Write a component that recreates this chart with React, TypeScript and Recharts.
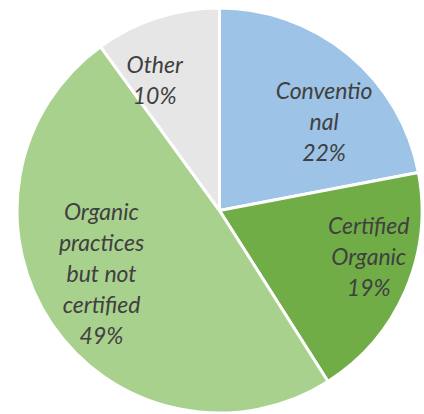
import React from 'react';
import { PieChart, Pie, Cell } from 'recharts';

const categories = ['Conventional', 'Certified Organic', 'Organic practices but not certified', 'Other'];
const shares = [22, 19, 49, 10];
// how Excel wrapped each label, last line is the percentage
const labelLines = [
  ['Conventio', 'nal'],
  ['Certified', 'Organic'],
  ['Organic', 'practices', 'but not', 'certified'],
  ['Other'],
];

const COLORS = ['#9DC3E6', '#70AD47', '#A9D18E', '#E7E6E6'];
// label placement relative to each slice: angle shift (deg) and fraction of radius
const LABEL_POS = [
  { shift: -9.8, r: 0.68 },
  { shift: 6.6, r: 0.77 },
  { shift: -6.2, r: 0.66 },
  { shift: 8.4, r: 0.72 },
];

const data = categories.map((name, i) => ({ name, value: shares[i] }));

const RAD = Math.PI / 180;
const LINE_H = 31;

const renderLabel = (props: any) => {
  const { cx, cy, midAngle, outerRadius, index, value } = props;
  const pos = LABEL_POS[index];
  const a = (midAngle + pos.shift) * RAD;
  const x = cx + outerRadius * pos.r * Math.cos(a);
  const y = cy - outerRadius * pos.r * Math.sin(a);
  const lines = [...labelLines[index], `${value}%`];
  const top = y - ((lines.length - 1) * LINE_H) / 2;
  return (
    <text
      x={x}
      y={top}
      textAnchor="middle"
      dominantBaseline="central"
      fill="#404040"
      fontFamily="Lato, 'Open Sans', sans-serif"
      fontStyle="italic"
      fontSize={23}
    >
      {lines.map((l, k) => (
        <tspan key={k} x={x} y={top + k * LINE_H}>
          {l}
        </tspan>
      ))}
    </text>
  );
};

export default function App() {
  return (
    <div style={{ position: 'absolute', left: 0, top: 0, width: 424, height: 414 }}>
      <PieChart width={424} height={414} margin={{ top: 0, right: 0, bottom: 0, left: 0 }}>
        <Pie
          data={data}
          dataKey="value"
          nameKey="name"
          cx={219.5}
          cy={210.5}
          outerRadius={202.5}
          startAngle={90}
          endAngle={-270}
          stroke="#FFFFFF"
          strokeWidth={3}
          label={renderLabel}
          labelLine={false}
          isAnimationActive={false}
        >
          {data.map((d, i) => (
            <Cell key={d.name} fill={COLORS[i]} />
          ))}
        </Pie>
      </PieChart>
    </div>
  );
}
